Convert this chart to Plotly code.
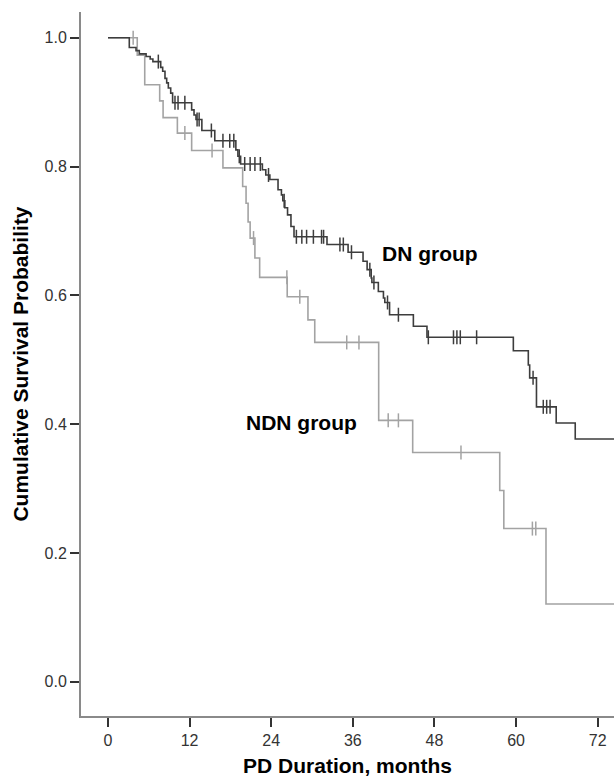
import plotly.graph_objects as go

# ---- data (months, cumulative survival) ----
dn_event_months = [3.13, 4.12, 4.6, 5.6, 6.2, 6.6, 7.75, 8.04, 8.38, 8.63, 8.87, 9.22, 9.5,
                   12.3, 12.65, 12.94, 13.8, 15.7, 18.8, 19.1, 19.5, 22.7, 23.2, 23.8, 25.0,
                   25.5, 25.7, 26.0, 26.4, 26.9, 27.35, 32.2, 35.3, 37.5, 38.1, 38.7, 38.8,
                   39.75, 40.5, 40.7, 41.4, 44.9, 46.9, 59.6, 61.8, 62.0, 63.0, 65.9, 68.7]
dn_event_surv = [0.985, 0.980, 0.975, 0.971, 0.967, 0.963, 0.954, 0.948, 0.937, 0.930, 0.922,
                 0.914, 0.899, 0.888, 0.880, 0.873, 0.856, 0.840, 0.826, 0.816, 0.804, 0.795,
                 0.787, 0.780, 0.764, 0.756, 0.747, 0.736, 0.725, 0.707, 0.691, 0.679, 0.667,
                 0.653, 0.640, 0.627, 0.620, 0.606, 0.596, 0.589, 0.570, 0.552, 0.535, 0.514,
                 0.492, 0.472, 0.427, 0.402, 0.377]
dn_censor_months = [7.4, 9.85, 10.3, 11.3, 13.1, 13.4, 15.2, 16.9, 17.9, 18.5, 19.3, 20.1,
                    20.9, 21.6, 22.4, 23.6, 25.9, 27.7, 28.5, 29.2, 30.2, 31.4, 31.7, 34.1,
                    34.6, 35.8, 38.5, 39.1, 41.1, 42.7, 47.1, 50.8, 51.3, 51.8, 54.2, 62.5,
                    64.0, 64.5, 65.0]

ndn_event_months = [4.3, 5.4, 7.6, 8.1, 10.2, 12.3, 16.9, 19.8, 20.3, 20.6, 20.9, 21.6, 22.3,
                    26.35, 29.4, 30.4, 39.8, 44.8, 57.6, 58.2, 64.4]
ndn_event_surv = [0.973, 0.927, 0.902, 0.876, 0.852, 0.825, 0.798, 0.769, 0.743, 0.714, 0.689,
                  0.658, 0.628, 0.598, 0.562, 0.527, 0.406, 0.356, 0.297, 0.238, 0.121]
ndn_censor_months = [3.7, 11.3, 15.3, 21.4, 26.3, 28.2, 35.1, 36.9, 41.2, 42.7, 51.9, 62.4, 62.9]

follow_up_end = 76

x_ticks = [0, 12, 24, 36, 48, 60, 72]
y_ticks = [0.0, 0.2, 0.4, 0.6, 0.8, 1.0]

DN_COLOR = "#3d3d3d"
NDN_COLOR = "#a3a3a3"
AXIS_COLOR = "#8a8a8a"
FONT = "Liberation Sans, Arial, sans-serif"


def step_curve(times, surv, end):
    xs = [0] + list(times) + [end]
    ys = [1.0] + list(surv) + [surv[-1]]
    return xs, ys


def level_at(c, times, surv):
    s = 1.0
    for t, v in zip(times, surv):
        if t <= c:
            s = v
    return s


fig = go.Figure()

for times, surv, cens, color in [
    (ndn_event_months, ndn_event_surv, ndn_censor_months, NDN_COLOR),
    (dn_event_months, dn_event_surv, dn_censor_months, DN_COLOR),
]:
    xs, ys = step_curve(times, surv, follow_up_end)
    fig.add_trace(go.Scatter(x=xs, y=ys, mode="lines", line=dict(color=color, width=1.6, shape="hv"),
                             hoverinfo="skip", showlegend=False))
    fig.add_trace(go.Scatter(x=cens, y=[level_at(c, times, surv) for c in cens], mode="markers",
                             marker=dict(symbol="line-ns", size=10, line=dict(color=color, width=1.5)),
                             hoverinfo="skip", showlegend=False))

fig.add_annotation(x=47.4, y=0.665, text="<b>DN group</b>", showarrow=False,
                   font=dict(family=FONT, size=21, color="#000"))
fig.add_annotation(x=28.5, y=0.402, text="<b>NDN group</b>", showarrow=False,
                   font=dict(family=FONT, size=21, color="#000"))

fig.update_layout(
    width=614, height=782,
    margin=dict(l=81, r=0, t=12, b=66),
    paper_bgcolor="white", plot_bgcolor="white",
    font=dict(family=FONT),
    xaxis=dict(range=[-3.97, 74.4], tickvals=x_ticks, ticks="outside", ticklen=9, tickwidth=1.5,
               tickcolor="#333", showline=True, linecolor=AXIS_COLOR, linewidth=2, showgrid=False,
               zeroline=False, tickfont=dict(size=16, color="#333"),
               title=dict(text="<b>PD Duration, months</b>", font=dict(size=21, color="#000"), standoff=10)),
    yaxis=dict(range=[-0.053, 1.040], tickvals=y_ticks, tickformat=".1f", ticks="outside", ticklen=9,
               tickwidth=1.5, tickcolor="#333", showline=True, linecolor=AXIS_COLOR, linewidth=2,
               showgrid=False, zeroline=False, tickfont=dict(size=16, color="#333"),
               title=dict(text="<b>Cumulative Survival Probability</b>", font=dict(size=21, color="#000"),
                          standoff=10)),
)

fig.write_html("out.html", config={"displayModeBar": False},
               post_script="document.body.style.margin='0';document.body.style.overflow='hidden';")
